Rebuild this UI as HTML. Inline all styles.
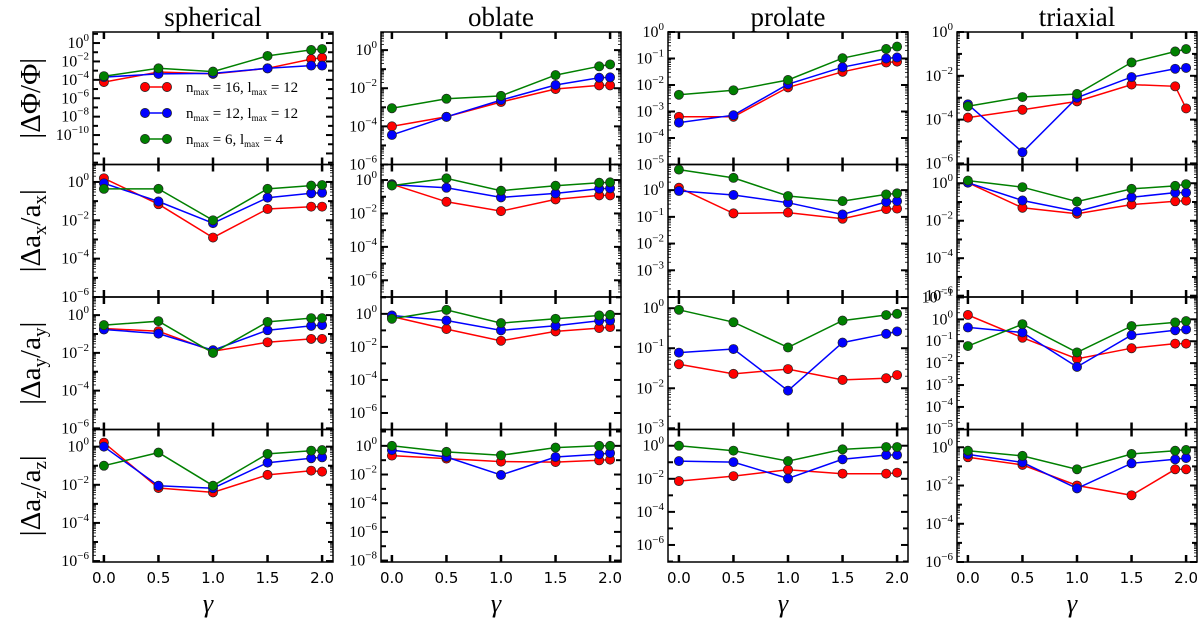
<!DOCTYPE html>
<html><head><meta charset="utf-8">
<style>
html,body{margin:0;padding:0;background:#fff;}
svg{display:block;}
text{font-family:"Liberation Serif","DejaVu Serif",serif;fill:#000;}
.xt{font-family:"DejaVu Sans","Liberation Sans",sans-serif;font-size:15px;}
</style></head>
<body>
<svg id="fig" width="1200" height="623" viewBox="0 0 1200 623" xmlns="http://www.w3.org/2000/svg"></svg>
<script>
// ---- data (log10 of relative errors) ----
const gammas = [0.0, 0.5, 1.0, 1.5, 1.9, 2.0];
const shapes = ["spherical","oblate","prolate","triaxial"];
const seriesNames = ["n_max=16, l_max=12","n_max=12, l_max=12","n_max=6, l_max=4"];
// row 1: |ΔΦ/Φ|  [spherical, oblate, prolate, triaxial]
const phiRed   = [[-4.24,-3.15,-3.35,-2.75,-1.75,-1.6],[-4.0,-3.5,-2.72,-2.04,-1.85,-1.85],[-3.2,-3.2,-2.09,-1.5,-1.15,-1.12],[-3.91,-3.55,-3.17,-2.4,-2.48,-3.49]];
const phiBlue  = [[-3.7,-3.35,-3.3,-2.75,-2.45,-2.45],[-4.45,-3.5,-2.62,-1.83,-1.45,-1.43],[-3.42,-3.14,-1.97,-1.33,-1.0,-0.96],[-3.3,-5.49,-3.0,-2.06,-1.68,-1.64]];
const phiGreen = [[-3.6,-2.75,-3.1,-1.4,-0.75,-0.65],[-3.05,-2.55,-2.4,-1.31,-0.85,-0.75],[-2.37,-2.2,-1.81,-0.99,-0.64,-0.55],[-3.39,-2.97,-2.83,-1.39,-0.89,-0.78]];
// row 2: |Δa_x/a_x|
const axRed   = [[0.19,-1.16,-2.9,-1.41,-1.29,-1.29],[-0.25,-1.3,-1.86,-1.16,-0.92,-0.92],[0.09,-0.87,-0.84,-1.07,-0.71,-0.69],[0.03,-1.31,-1.63,-1.14,-0.96,-0.93]];
const axBlue  = [[-0.07,-1.02,-2.15,-0.82,-0.59,-0.56],[-0.28,-0.46,-1.04,-0.8,-0.52,-0.5],[-0.03,-0.18,-0.47,-0.91,-0.44,-0.41],[0.03,-0.92,-1.51,-0.75,-0.5,-0.5]];
const axGreen = [[-0.36,-0.36,-2.0,-0.36,-0.19,-0.16],[-0.33,0.1,-0.64,-0.34,-0.16,-0.14],[0.77,0.46,-0.22,-0.41,-0.16,-0.12],[0.14,-0.21,-0.98,-0.3,-0.14,-0.05]];
// row 3: |Δa_y/a_y|
const ayRed   = [[-0.71,-0.85,-1.91,-1.44,-1.26,-1.26],[-0.16,-0.92,-1.63,-1.06,-0.86,-0.8],[-1.4,-1.64,-1.52,-1.79,-1.75,-1.67],[0.2,-0.84,-1.8,-1.32,-1.11,-1.11]];
const ayBlue  = [[-0.76,-0.98,-1.86,-0.8,-0.57,-0.53],[-0.1,-0.4,-1.0,-0.72,-0.42,-0.4],[-1.11,-1.02,-2.06,-0.86,-0.64,-0.58],[-0.37,-0.6,-2.17,-0.72,-0.5,-0.46]];
const ayGreen = [[-0.53,-0.32,-2.0,-0.36,-0.16,-0.16],[-0.3,0.24,-0.56,-0.3,-0.1,-0.06],[-0.04,-0.35,-0.98,-0.31,-0.17,-0.14],[-1.22,-0.22,-1.51,-0.31,-0.14,-0.08]];
// row 4: |Δa_z/a_z|
const azRed   = [[0.21,-2.17,-2.4,-1.48,-1.26,-1.31],[-0.68,-0.89,-1.1,-1.13,-1.01,-0.96],[-2.14,-1.84,-1.45,-1.69,-1.69,-1.63],[-0.52,-0.92,-2.0,-2.51,-1.15,-1.15]];
const azBlue  = [[0.0,-2.05,-2.18,-0.84,-0.61,-0.56],[-0.3,-0.78,-2.03,-0.78,-0.59,-0.5],[-0.93,-0.99,-1.98,-0.82,-0.56,-0.56],[-0.37,-0.79,-2.15,-0.84,-0.63,-0.56]];
const azGreen = [[-1.0,-0.31,-2.05,-0.38,-0.21,-0.18],[0.0,-0.42,-0.66,-0.12,0.0,0.0],[0.0,-0.3,-0.93,-0.22,-0.08,-0.08],[-0.18,-0.45,-1.15,-0.35,-0.18,-0.14]];
// y-axis limits (log10) per row/column and labelled decades
const yMin = [[-13.2,-6.0,-5.0,-6.05],[-6.0,-7.0,-4.0,-6.07],[-6.06,-7.0,-3.03,-5.03],[-6.05,-8.1,-7.03,-6.0]];
const yMax = [[1.2,0.95,0.0,0.0],[0.91,0.93,0.96,1.0],[0.96,1.02,0.28,1.02],[0.9,1.14,0.98,0.93]];
const yLabelStep = [[2,2,1,2],[2,2,1,2],[2,2,1,1],[2,2,2,2]];
const yLabelLow = [[-10,-6,-5,-6],[-6,-6,-3,-6],[-6,-6,-3,-5],[-6,-8,-6,-6]];
const xTicks = [0.0, 0.5, 1.0, 1.5, 2.0];
const xTickLabels = ["0.0","0.5","1.0","1.5","2.0"];

const rows = [[phiRed,phiBlue,phiGreen],[axRed,axBlue,axGreen],[ayRed,ayBlue,ayGreen],[azRed,azBlue,azGreen]];
const colors = ["#ff0000","#0000ff","#008000"];
const rowNames = ["dphi","dax","day","daz"];

const NS = "http://www.w3.org/2000/svg";
const svg = document.getElementById("fig");
function mk(tag, attrs, parent){
  const e = document.createElementNS(NS, tag);
  for (const k in attrs) e.setAttribute(k, attrs[k]);
  (parent||svg).appendChild(e);
  return e;
}
const colLeft = [93, 381, 668, 957];
const colW = 240;
const rowTop = [32, 164.5, 297, 429.5];
const rowH = 132.5;
const xMin = -0.1, xMax = 2.1;

for (let c = 0; c < 4; c++) {
  const t = mk("text", {x: colLeft[c] + colW/2, y: 26, "text-anchor": "middle", "font-size": 27});
  t.textContent = shapes[c];
  
  
  for (let r = 0; r < 4; r++) {
    const L = colLeft[c], T = rowTop[r], B = T + rowH, R = L + colW;
    const lo = yMin[r][c], hi = yMax[r][c];
    const sx = g => L + (g - xMin) / (xMax - xMin) * colW;
    const sy = v => T + (hi - v) / (hi - lo) * rowH;
    const g = mk("g", {});
    
    
    const span = hi - lo;
    for (let d = Math.ceil(lo); d <= Math.floor(hi); d++) {
      const y = sy(d);
      const major = (d % yLabelStep[r][c] === 0);
      const len = major ? 7 : 5;
      mk("line", {x1: L, x2: L + len, y1: y, y2: y, stroke: "#000", "stroke-width": 2}, g);
      mk("line", {x1: R, x2: R - len, y1: y, y2: y, stroke: "#000", "stroke-width": 2}, g);
      if (major && d >= yLabelLow[r][c]) {
        const lab = mk("text", {x: L - 4, y: y + 5, "text-anchor": "end", "font-size": 16}, g);
        
        
        const b = mk("tspan", {}, lab); b.textContent = "10";
        const s = mk("tspan", {dy: -7, "font-size": 11}, lab); s.textContent = d === 0 ? "0" : "\u2212" + (-d);
      }
      if (span <= 8) {
        for (let m = 2; m <= 9; m++) {
          const v = d + Math.log10(m);
          if (v > hi || v < lo) continue;
          const ym = sy(v);
          mk("line", {x1: L, x2: L + 3, y1: ym, y2: ym, stroke: "#000", "stroke-width": 0.8}, g);
          mk("line", {x1: R, x2: R - 3, y1: ym, y2: ym, stroke: "#000", "stroke-width": 0.8}, g);
        }
      }
    }
    for (let i = 0; i < xTicks.length; i++) {
      const x = sx(xTicks[i]);
      mk("line", {x1: x, x2: x, y1: B, y2: B - 7, stroke: "#000", "stroke-width": 2.5}, g);
      mk("line", {x1: x, x2: x, y1: T, y2: T + 7, stroke: "#000", "stroke-width": 2.5}, g);
      if (r === 3) {
        const xl = mk("text", {x: x, y: B + 21, "text-anchor": "middle", class: "xt"}, g);
        xl.textContent = xTickLabels[i];
        
        
      }
    }
    const data = rows[r];
    for (let s = 0; s < 3; s++) {
      const vals = data[s][c];
      const pts = gammas.map((gm, i) => sx(gm).toFixed(1) + "," + sy(vals[i]).toFixed(1)).join(" ");
      const pl = mk("polyline", {points: pts, fill: "none", stroke: colors[s], "stroke-width": 1.5}, g);
      
      
      for (let i = 0; i < gammas.length; i++) {
        const ci = mk("circle", {cx: sx(gammas[i]), cy: sy(vals[i]), r: 4.6, fill: colors[s], stroke: "#222", "stroke-width": 0.7}, g);
        
        
      }
    }
    const fr = mk("rect", {x: L, y: T, width: colW, height: rowH, fill: "none", stroke: "#000", "stroke-width": 1.5}, g);
    
    
  }
  const gl = mk("text", {x: colLeft[c] + colW/2 - 5, y: 612, "text-anchor": "middle", "font-size": 26, "font-style": "italic"});
  gl.textContent = "\u03B3";
  
  
}

for (let r = 0; r < 4; r++) {
  const cy = rowTop[r] + rowH/2;
  const t = mk("text", {x: 0, y: 0, "text-anchor": "middle", "font-size": 29, transform: "translate(40," + cy + ") rotate(-90)"});
  
  
  if (r === 0) { t.textContent = "|\u0394\u03A6/\u03A6|"; }
  else {
    const sub = ["x","y","z"][r-1];
    const a = mk("tspan", {}, t); a.textContent = "|\u0394a";
    const b = mk("tspan", {dy: 6, "font-size": 19}, t); b.textContent = sub;
    const c2 = mk("tspan", {dy: -6}, t); c2.textContent = "/a";
    const d = mk("tspan", {dy: 6, "font-size": 19}, t); d.textContent = sub;
    const e = mk("tspan", {dy: -6}, t); e.textContent = "|";
  }
}

const legY = [87, 113, 139];
const legN = ["16","12","6"], legL = ["12","12","4"];
for (let s = 0; s < 3; s++) {
  const lg = mk("g", {});
  
  
  mk("line", {x1: 145, x2: 167, y1: legY[s], y2: legY[s], stroke: colors[s], "stroke-width": 1.5}, lg);
  mk("circle", {cx: 145, cy: legY[s], r: 4.6, fill: colors[s], stroke: "#222", "stroke-width": 0.7}, lg);
  mk("circle", {cx: 167, cy: legY[s], r: 4.6, fill: colors[s], stroke: "#222", "stroke-width": 0.7}, lg);
  const t = mk("text", {x: 186, y: legY[s] + 5, "font-size": 15}, lg);
  const p = [["n",0,15],["max",3,9],[" = " + legN[s] + ", l",-3,15],["max",3,9],[" = " + legL[s],-3,15]];
  for (const [txt, dy, fs] of p) { const ts = mk("tspan", {dy: dy, "font-size": fs}, t); ts.textContent = txt; }
}
</script>
</body></html>
